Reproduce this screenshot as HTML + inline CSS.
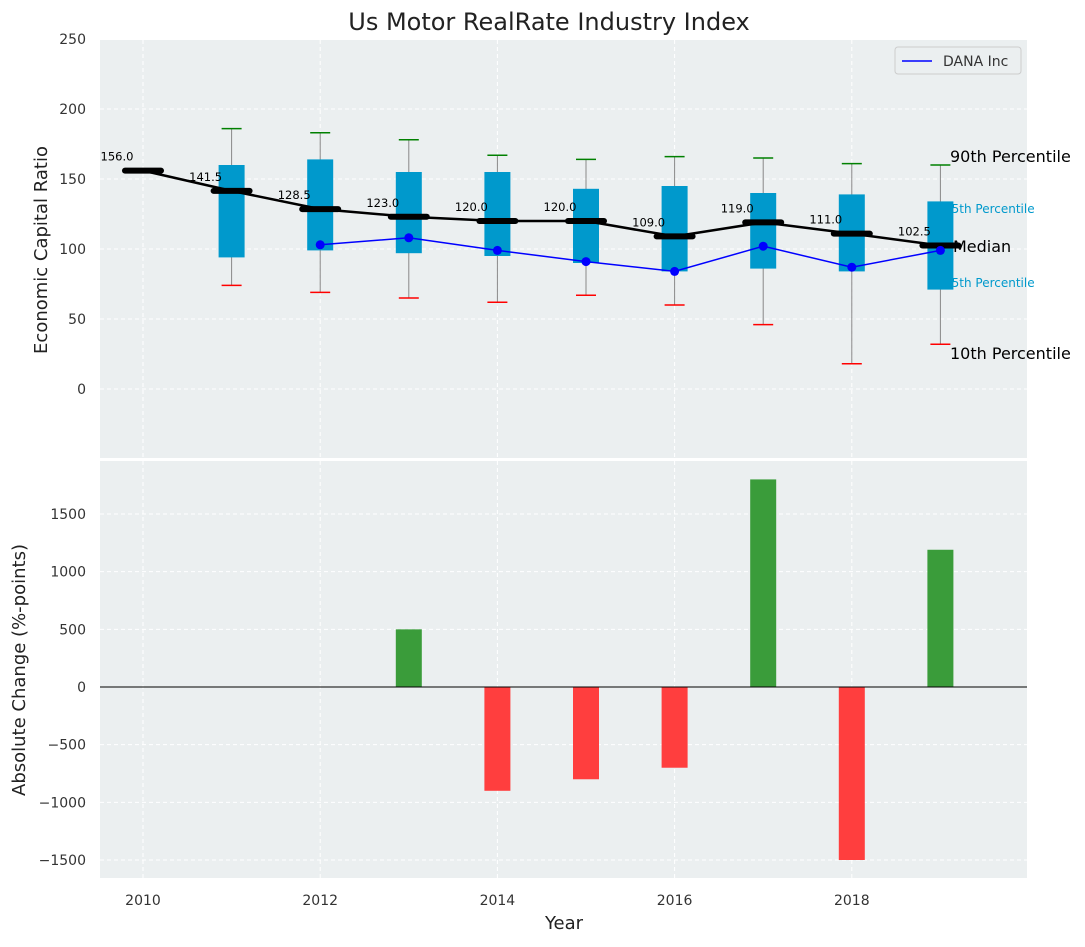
<!DOCTYPE html>
<html><head><meta charset="utf-8"><style>
body{margin:0;background:#fff;font-family:"Liberation Sans","DejaVu Sans",sans-serif}
</style></head><body>
<svg id="c" width="1085" height="942" xmlns="http://www.w3.org/2000/svg" font-family="DejaVu Sans, Liberation Sans, sans-serif"></svg>
<script>
const years=[2010,2011,2012,2013,2014,2015,2016,2017,2018,2019];
const medians=[156,141.5,128.5,123,120,120,109,119,111,102.5];
const boxYears=[2011,2012,2013,2014,2015,2016,2017,2018,2019];
const p10=[74,69,65,62,67,60,46,18,32];
const p25=[94,99,97,95,90,84,86,84,71];
const p75=[160,164,155,155,143,145,140,139,134];
const p90=[186,183,178,167,164,166,165,161,160];
const danaYears=[2012,2013,2014,2015,2016,2017,2018,2019];
const dana=[103,108,99,91,84,102,87,99];
const changeYears=[2013,2014,2015,2016,2017,2018,2019];
const changes=[500,-900,-800,-700,1800,-1500,1190];
const topTicks=[0,50,100,150,200,250];
const botTicks=[-1500,-1000,-500,0,500,1000,1500];
const xTicks=[2010,2012,2014,2016,2018];

const svg=document.getElementById('c');const NS='http://www.w3.org/2000/svg';
function el(t,a,txt){const e=document.createElementNS(NS,t);for(const k in a)e.setAttribute(k,a[k]);if(txt!==undefined)e.textContent=txt;svg.appendChild(e);return e;}
const L=100,R=1027,T1=40,B1=458,T2=461,B2=878;
const X=y=>143+(y-2010)*88.6;
const Y1=v=>389-v*1.4;
const Y2=v=>687-v*0.11533;

let e;
e=el('rect',{x:L,y:T1,width:R-L,height:B1-T1,fill:'#ebeff0'});

e=el('rect',{x:L,y:T2,width:R-L,height:B2-T2,fill:'#ebeff0'});


xTicks.forEach(t=>{
 [[T1,B1],[T2,B2]].forEach(([a,b])=>{e=el('line',{x1:X(t),x2:X(t),y1:a,y2:b,stroke:'#fff','stroke-dasharray':'4,3','stroke-width':1});});
 e=el('text',{x:X(t),y:905,'font-size':14,fill:'#333','text-anchor':'middle'},t);
 
});
topTicks.forEach(t=>{
 e=el('line',{x1:L,x2:R,y1:Y1(t),y2:Y1(t),stroke:'#fff','stroke-dasharray':'4,3'});
 e=el('text',{x:86,y:Y1(t)+5,'font-size':14,fill:'#333','text-anchor':'end'},t);
 
});
botTicks.forEach(t=>{
 e=el('line',{x1:L,x2:R,y1:Y2(t),y2:Y2(t),stroke:'#fff','stroke-dasharray':'4,3'});
 e=el('text',{x:86,y:Y2(t)+5,'font-size':14,fill:'#333','text-anchor':'end'},t.toString().replace('-','\u2212'));
 
});

const lx=950;
e=el('text',{x:lx,y:162,'font-size':16,fill:'#000'},'90th Percentile');
e=el('text',{x:944,y:213,'font-size':12,fill:'#0099cc'},'75th Percentile');
e=el('text',{x:953,y:252,'font-size':16,fill:'#000'},'Median');
e=el('text',{x:944,y:287,'font-size':12,fill:'#0099cc'},'25th Percentile');
e=el('text',{x:lx,y:359,'font-size':16,fill:'#000'},'10th Percentile');

boxYears.forEach((yr,i)=>{
 const x=X(yr);
 e=el('line',{x1:x,x2:x,y1:Y1(p90[i]),y2:Y1(p10[i]),stroke:'#888','stroke-width':1});
 e=el('rect',{x:x-13,y:Y1(p75[i]),width:26,height:Y1(p25[i])-Y1(p75[i]),fill:'#0099cc'});
 e=el('line',{x1:x-10,x2:x+10,y1:Y1(p90[i]),y2:Y1(p90[i]),stroke:'green','stroke-width':1.5});
 e=el('line',{x1:x-10,x2:x+10,y1:Y1(p10[i]),y2:Y1(p10[i]),stroke:'red','stroke-width':1.5});
});
e=el('polyline',{points:years.map((y,i)=>X(y)+','+Y1(medians[i])).join(' '),fill:'none',stroke:'#000','stroke-width':2.5});

years.forEach((y,i)=>{
 e=el('line',{x1:X(y)-18,x2:X(y)+18,y1:Y1(medians[i]),y2:Y1(medians[i]),stroke:'#000','stroke-width':6,'stroke-linecap':'round'});
 
 e=el('text',{x:X(y)-26,y:Y1(medians[i])-10,'font-size':11.5,fill:'#000','text-anchor':'middle'},medians[i].toFixed(1));
 
});
e=el('polyline',{points:danaYears.map((y,i)=>X(y)+','+Y1(dana[i])).join(' '),fill:'none',stroke:'blue','stroke-width':1.5});

danaYears.forEach((y,i)=>{e=el('circle',{cx:X(y),cy:Y1(dana[i]),r:4.5,fill:'blue'});});

e=el('rect',{x:895,y:47,width:126,height:27,fill:'#ebeff0',stroke:'#ccc',rx:3});
e=el('line',{x1:902,x2:932,y1:61,y2:61,stroke:'blue','stroke-width':1.5});
e=el('text',{x:943,y:66,'font-size':14,fill:'#333'},'DANA Inc');

changeYears.forEach((y,i)=>{
 const v=changes[i];const a=Y2(Math.max(v,0)),b=Y2(Math.min(v,0));
 e=el('rect',{x:X(y)-13,y:a,width:26,height:b-a,fill:v>=0?'#3a9c3a':'#ff3e3e'});
 
});
e=el('line',{x1:L,x2:R,y1:Y2(0),y2:Y2(0),stroke:'#000','stroke-width':1});

e=el('text',{x:549,y:30,'font-size':24,fill:'#222','text-anchor':'middle'},'Us Motor RealRate Industry Index');
e=el('text',{x:564,y:929,'font-size':18,fill:'#222','text-anchor':'middle'},'Year');
e=el('text',{x:47,y:250,'font-size':18,fill:'#222','text-anchor':'middle',transform:'rotate(-90 47 250)'},'Economic Capital Ratio');
e=el('text',{x:25,y:670,'font-size':18,fill:'#222','text-anchor':'middle',transform:'rotate(-90 25 670)'},'Absolute Change (%-points)');
</script>
</body></html>
